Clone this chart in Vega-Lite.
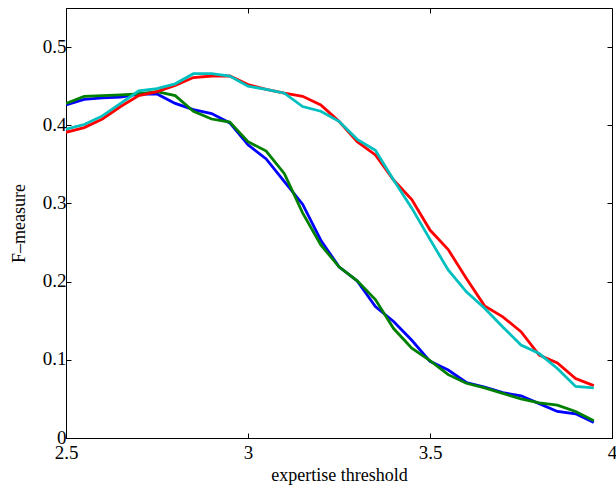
{
  "$schema": "https://vega.github.io/schema/vega-lite/v6.json",
  "width": 546,
  "height": 430,
  "autosize": "none",
  "padding": {"left": 66, "top": 8, "right": 4, "bottom": 48},
  "background": "white",
  "config": {
    "view": {"stroke": "black", "strokeWidth": 1},
    "axis": {
      "grid": false,
      "domainColor": "black",
      "tickColor": "black",
      "labelColor": "black",
      "titleColor": "black",
      "labelFont": "Liberation Serif",
      "titleFont": "Liberation Serif",
      "labelFontSize": 19,
      "titleFontSize": 18,
      "titleFontWeight": "normal",
      "tickSize": -5,
      "labelPadding": 5,
      "labelFlush": false,
      "labelOverlap": false
    }
  },
  "data": {"values": [
    {"x":2.5,"y":0.426,"s":"a"},{"x":2.55,"y":0.433,"s":"a"},{"x":2.6,"y":0.435,"s":"a"},{"x":2.65,"y":0.436,"s":"a"},{"x":2.7,"y":0.44,"s":"a"},{"x":2.75,"y":0.44,"s":"a"},{"x":2.8,"y":0.428,"s":"a"},{"x":2.85,"y":0.42,"s":"a"},{"x":2.9,"y":0.415,"s":"a"},{"x":2.95,"y":0.403,"s":"a"},{"x":3.0,"y":0.375,"s":"a"},{"x":3.05,"y":0.357,"s":"a"},{"x":3.1,"y":0.328,"s":"a"},{"x":3.15,"y":0.299,"s":"a"},{"x":3.2,"y":0.253,"s":"a"},{"x":3.25,"y":0.219,"s":"a"},{"x":3.3,"y":0.201,"s":"a"},{"x":3.35,"y":0.168,"s":"a"},{"x":3.4,"y":0.149,"s":"a"},{"x":3.45,"y":0.125,"s":"a"},{"x":3.5,"y":0.098,"s":"a"},{"x":3.55,"y":0.087,"s":"a"},{"x":3.6,"y":0.071,"s":"a"},{"x":3.65,"y":0.065,"s":"a"},{"x":3.7,"y":0.058,"s":"a"},{"x":3.75,"y":0.054,"s":"a"},{"x":3.8,"y":0.044,"s":"a"},{"x":3.85,"y":0.034,"s":"a"},{"x":3.9,"y":0.031,"s":"a"},{"x":3.95,"y":0.02,"s":"a"},
    {"x":2.5,"y":0.428,"s":"b"},{"x":2.55,"y":0.437,"s":"b"},{"x":2.6,"y":0.438,"s":"b"},{"x":2.65,"y":0.439,"s":"b"},{"x":2.7,"y":0.44,"s":"b"},{"x":2.75,"y":0.443,"s":"b"},{"x":2.8,"y":0.438,"s":"b"},{"x":2.85,"y":0.418,"s":"b"},{"x":2.9,"y":0.408,"s":"b"},{"x":2.95,"y":0.404,"s":"b"},{"x":3.0,"y":0.379,"s":"b"},{"x":3.05,"y":0.367,"s":"b"},{"x":3.1,"y":0.338,"s":"b"},{"x":3.15,"y":0.288,"s":"b"},{"x":3.2,"y":0.247,"s":"b"},{"x":3.25,"y":0.219,"s":"b"},{"x":3.3,"y":0.201,"s":"b"},{"x":3.35,"y":0.177,"s":"b"},{"x":3.4,"y":0.14,"s":"b"},{"x":3.45,"y":0.115,"s":"b"},{"x":3.5,"y":0.099,"s":"b"},{"x":3.55,"y":0.081,"s":"b"},{"x":3.6,"y":0.07,"s":"b"},{"x":3.65,"y":0.064,"s":"b"},{"x":3.7,"y":0.057,"s":"b"},{"x":3.75,"y":0.05,"s":"b"},{"x":3.8,"y":0.045,"s":"b"},{"x":3.85,"y":0.042,"s":"b"},{"x":3.9,"y":0.034,"s":"b"},{"x":3.95,"y":0.022,"s":"b"},
    {"x":2.5,"y":0.391,"s":"c"},{"x":2.55,"y":0.397,"s":"c"},{"x":2.6,"y":0.408,"s":"c"},{"x":2.65,"y":0.424,"s":"c"},{"x":2.7,"y":0.438,"s":"c"},{"x":2.75,"y":0.443,"s":"c"},{"x":2.8,"y":0.451,"s":"c"},{"x":2.85,"y":0.461,"s":"c"},{"x":2.9,"y":0.463,"s":"c"},{"x":2.95,"y":0.463,"s":"c"},{"x":3.0,"y":0.452,"s":"c"},{"x":3.05,"y":0.446,"s":"c"},{"x":3.1,"y":0.441,"s":"c"},{"x":3.15,"y":0.437,"s":"c"},{"x":3.2,"y":0.426,"s":"c"},{"x":3.25,"y":0.405,"s":"c"},{"x":3.3,"y":0.379,"s":"c"},{"x":3.35,"y":0.362,"s":"c"},{"x":3.4,"y":0.33,"s":"c"},{"x":3.45,"y":0.305,"s":"c"},{"x":3.5,"y":0.266,"s":"c"},{"x":3.55,"y":0.241,"s":"c"},{"x":3.6,"y":0.204,"s":"c"},{"x":3.65,"y":0.169,"s":"c"},{"x":3.7,"y":0.155,"s":"c"},{"x":3.75,"y":0.136,"s":"c"},{"x":3.8,"y":0.106,"s":"c"},{"x":3.85,"y":0.096,"s":"c"},{"x":3.9,"y":0.076,"s":"c"},{"x":3.95,"y":0.067,"s":"c"},
    {"x":2.5,"y":0.395,"s":"d"},{"x":2.55,"y":0.401,"s":"d"},{"x":2.6,"y":0.412,"s":"d"},{"x":2.65,"y":0.428,"s":"d"},{"x":2.7,"y":0.444,"s":"d"},{"x":2.75,"y":0.447,"s":"d"},{"x":2.8,"y":0.453,"s":"d"},{"x":2.85,"y":0.466,"s":"d"},{"x":2.9,"y":0.466,"s":"d"},{"x":2.95,"y":0.463,"s":"d"},{"x":3.0,"y":0.45,"s":"d"},{"x":3.05,"y":0.446,"s":"d"},{"x":3.1,"y":0.441,"s":"d"},{"x":3.15,"y":0.424,"s":"d"},{"x":3.2,"y":0.418,"s":"d"},{"x":3.25,"y":0.405,"s":"d"},{"x":3.3,"y":0.382,"s":"d"},{"x":3.35,"y":0.368,"s":"d"},{"x":3.4,"y":0.33,"s":"d"},{"x":3.45,"y":0.294,"s":"d"},{"x":3.5,"y":0.254,"s":"d"},{"x":3.55,"y":0.215,"s":"d"},{"x":3.6,"y":0.187,"s":"d"},{"x":3.65,"y":0.166,"s":"d"},{"x":3.7,"y":0.142,"s":"d"},{"x":3.75,"y":0.119,"s":"d"},{"x":3.8,"y":0.108,"s":"d"},{"x":3.85,"y":0.089,"s":"d"},{"x":3.9,"y":0.066,"s":"d"},{"x":3.95,"y":0.064,"s":"d"}
  ]},
  "resolve": {"axis": {"x": "independent", "y": "independent"}},
  "layer": [
    {
      "mark": {"type": "line", "strokeWidth": 2.8, "clip": true},
      "encoding": {
        "x": {"field": "x", "type": "quantitative",
          "scale": {"domain": [2.5, 4], "nice": false, "zero": false},
          "axis": {"orient": "bottom", "values": [2.5, 3, 3.5, 4], "format": "~g", "labelFont": "Liberation Serif", "labelPadding": 10, "title": "expertise threshold", "titlePadding": 4}},
        "y": {"field": "y", "type": "quantitative",
          "scale": {"domain": [0, 0.55], "nice": false},
          "axis": {"orient": "left", "values": [0, 0.1, 0.2, 0.3, 0.4, 0.5], "format": "~g", "labelFont": "Liberation Serif", "labelPadding": 5, "labelOffset": -1, "title": "F–measure", "titlePadding": 14}},
        "color": {"field": "s", "type": "nominal",
          "scale": {"domain": ["a", "b", "c", "d"], "range": ["#0000ff", "#008000", "#ff0000", "#00bfbf"]},
          "legend": null}
      }
    },
    {
      "mark": {"type": "point", "opacity": 0},
      "encoding": {
        "x": {"field": "x", "type": "quantitative",
          "axis": {"orient": "top", "values": [2.5, 3, 3.5, 4], "labels": false, "domain": false, "title": null}},
        "y": {"field": "y", "type": "quantitative",
          "axis": {"orient": "right", "values": [0, 0.1, 0.2, 0.3, 0.4, 0.5], "labels": false, "domain": false, "title": null}}
      }
    }
  ]
}
